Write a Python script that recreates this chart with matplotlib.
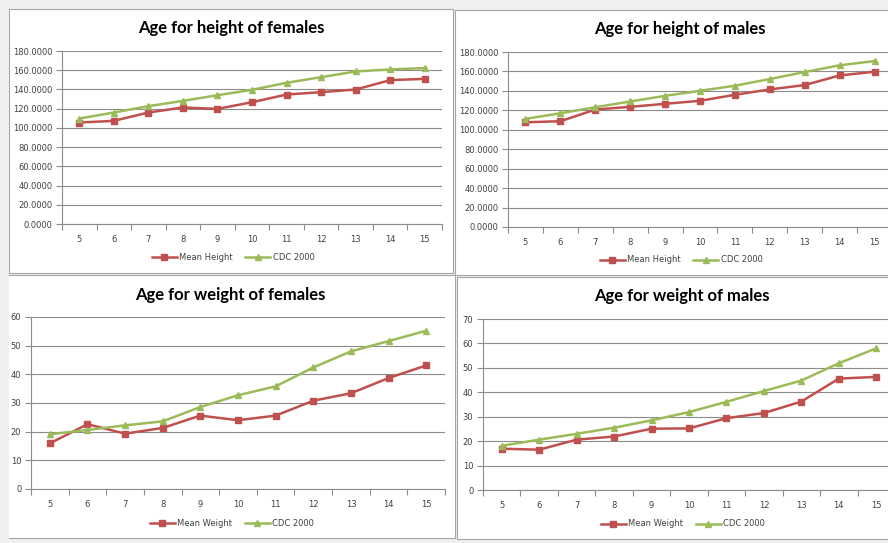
import matplotlib
matplotlib.use("Agg")
import matplotlib.pyplot as plt
from matplotlib.patches import Rectangle
from matplotlib.ticker import FormatStrFormatter, MultipleLocator

ages = [5, 6, 7, 8, 9, 10, 11, 12, 13, 14, 15]

female_height_mean = [105.6, 107.3, 116.0, 121.2, 119.8, 126.7, 134.7, 137.2, 139.9, 149.7, 151.0]
female_height_cdc = [109.7, 116.0, 122.6, 128.1, 134.0, 139.6, 146.9, 152.8, 158.7, 160.8, 162.2]
male_height_mean = [107.7, 108.8, 120.8, 123.6, 126.7, 129.8, 136.0, 141.5, 146.0, 155.9, 159.7]
male_height_cdc = [111.2, 117.0, 123.2, 129.1, 134.9, 140.1, 145.3, 152.2, 159.4, 166.3, 170.7]
female_weight_mean = [15.9, 22.6, 19.3, 21.3, 25.6, 24.0, 25.6, 30.8, 33.4, 38.7, 43.1]
female_weight_cdc = [19.1, 20.6, 22.2, 23.6, 28.6, 32.7, 35.8, 42.4, 48.0, 51.6, 55.2]
male_weight_mean = [16.9, 16.5, 20.6, 21.9, 25.1, 25.2, 29.4, 31.5, 36.2, 45.6, 46.3]
male_weight_cdc = [18.1, 20.6, 23.0, 25.5, 28.5, 31.9, 36.1, 40.5, 44.8, 51.9, 58.0]

W, H = 888, 543
RED = "#C0504D"
GREEN = "#9BBB59"
GRID = "#8c8c8c"
TXT = "#404040"

fig = plt.figure(figsize=(W / 100, H / 100), dpi=100, facecolor="#eef0f0")


def box(x0, y0, x1, y1):
    # panel background in pixel coords (y from top)
    r = Rectangle((x0 / W, 1 - y1 / H), (x1 - x0) / W, (y1 - y0) / H,
                  transform=fig.transFigure, facecolor="white",
                  edgecolor="#a6a6a6", linewidth=0.8, zorder=-10)
    fig.add_artist(r)


box(9, 9, 453, 273)
box(455, 10, 900, 275)
box(-5, 275, 455, 538)
box(457, 277, 900, 539)
fig.add_artist(Rectangle((0, 0), 9 / W, 1, transform=fig.transFigure,
                         facecolor="#eef0f0", edgecolor="none", zorder=-5))


def chart(px, title, title_xy, mean, cdc, mean_label, ymax, ystep, fmt, leg_xy):
    left, right, top, bottom = px
    ax = fig.add_axes([left / W, 1 - bottom / H, (right - left) / W, (bottom - top) / H])
    ax.set_facecolor("none")
    x = list(range(len(ages)))
    ax.plot(x, mean, color=RED, lw=1.8, marker="s", ms=5, label=mean_label)
    ax.plot(x, cdc, color=GREEN, lw=1.8, marker="^", ms=5, label="CDC 2000")
    ax.set_xlim(-0.5, len(ages) - 0.5)
    ax.set_ylim(0, ymax)
    ax.set_xticks(x)
    ax.set_xticklabels([str(a) for a in ages])
    ax.set_xticks([i - 0.5 for i in range(len(ages) + 1)], minor=True)
    ax.yaxis.set_major_locator(MultipleLocator(ystep))
    ax.yaxis.set_major_formatter(FormatStrFormatter(fmt))
    ax.tick_params(axis="x", which="major", length=0, pad=8, labelsize=6, labelcolor=TXT)
    ax.tick_params(axis="x", which="minor", length=4, color=GRID, width=0.8)
    ax.tick_params(axis="y", length=4, color=GRID, width=0.8, pad=3, labelsize=6, labelcolor=TXT)
    ax.grid(axis="y", color=GRID, lw=0.8)
    ax.set_axisbelow(True)
    for s in ["top", "right"]:
        ax.spines[s].set_visible(False)
    for s in ["left", "bottom"]:
        ax.spines[s].set_color(GRID)
        ax.spines[s].set_linewidth(0.8)
    fig.text(title_xy[0] / W, 1 - title_xy[1] / H, title, ha="center", va="center",
             fontsize=12, fontweight="bold", family="Lato", color="black")
    fig.legend(*ax.get_legend_handles_labels(), loc="center",
               bbox_to_anchor=(leg_xy[0] / W, 1 - leg_xy[1] / H), ncol=2, frameon=False,
               fontsize=6, handlelength=3, columnspacing=1.5, handletextpad=0.3,
               labelcolor=TXT)


chart((62, 442, 51, 224), "Age for height of females", (231, 28),
      female_height_mean, female_height_cdc, "Mean Height", 180, 20, "%.4f", (233, 257))
chart((508, 892, 52, 227), "Age for height of males", (680, 29),
      male_height_mean, male_height_cdc, "Mean Height", 180, 20, "%.4f", (681, 260))
chart((31, 445, 317, 489), "Age for weight of females", (230, 295),
      female_weight_mean, female_weight_cdc, "Mean Weight", 60, 10, "%d", (232, 523))
chart((483, 895, 319, 490), "Age for weight of males", (682, 296),
      male_weight_mean, male_weight_cdc, "Mean Weight", 70, 10, "%d", (683, 524))

fig.savefig("out.png", dpi=100)
